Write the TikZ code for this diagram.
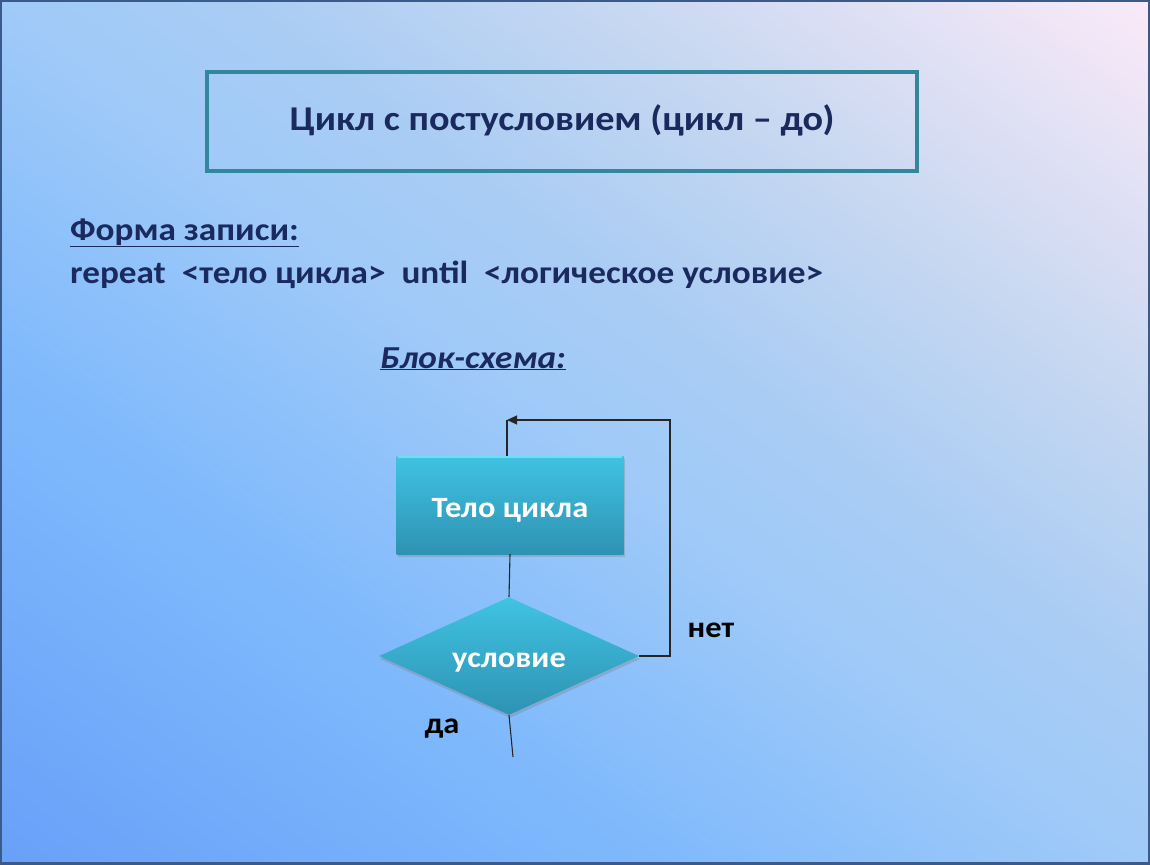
\documentclass[tikz,border=0pt]{standalone}
\usepackage{fontspec}
\setmainfont{Carlito}[FakeStretch=1.1]
\usetikzlibrary{shapes.geometric,arrows.meta,shadows}

\definecolor{inkblue}{HTML}{1B2A5E}
\definecolor{frameteal}{HTML}{33879D}
\definecolor{edgeblue}{HTML}{3A5A8C}
\definecolor{boxtop}{HTML}{40C3E2}
\definecolor{boxbot}{HTML}{2E92B3}
\definecolor{boxhi}{HTML}{6FDDF2}
\definecolor{bgA}{HTML}{67A0F8}
\definecolor{bgB}{HTML}{80BAFC}
\definecolor{bgC}{HTML}{A0CAF8}
\definecolor{bgD}{HTML}{A9CCF4}
\definecolor{bgE}{HTML}{C5D7F1}
\definecolor{bgF}{HTML}{FCEAF8}

\pgfdeclareverticalshading{slidebg}{100bp}{color(0bp)=(bgA); color(14.6bp)=(bgA); color(35.8bp)=(bgB); color(50bp)=(bgC); color(57.1bp)=(bgD); color(67.7bp)=(bgE); color(85.4bp)=(bgF); color(100bp)=(bgF)}

\begin{document}
\begin{tikzpicture}[x=1pt, y=-1pt,
    blockbox/.style={draw=none, top color=boxtop, bottom color=boxbot, text=white,
        font=\fontsize{29.5}{34}\selectfont\bfseries,
        drop shadow={opacity=0.35, shadow xshift=1pt, shadow yshift=-3pt}},
    flowline/.style={draw=black!85, line width=1.1pt},
    slidetext/.style={anchor=base west, inner sep=0pt, text=inkblue,
        font=\fontsize{32}{36}\selectfont\bfseries},
    answer/.style={font=\fontsize{29.5}{34}\selectfont\bfseries, text=black}]

    % background of the slide
    \useasboundingbox (0,0) rectangle (1150,864);
    \shade[shading=slidebg, shading angle=-37] (0,0) rectangle (1150,864);
    \draw[edgeblue, line width=4pt] (0,0) rectangle (1150,864);

    % title
    \draw[frameteal, line width=4pt] (207,72) rectangle (917,171);
    \node[anchor=base, inner sep=0pt, text=inkblue, font=\fontsize{34.8}{40}\selectfont\bfseries]
          (title) at (562,131) {Цикл с постусловием (цикл – до)};

    % form of the statement
    \node[slidetext] (formhead) at (70,240) {\underline{Форма записи:}};
    \node[slidetext] (formline) at (70,283) {repeat\ \ <тело цикла>\ \ until\ \ <логическое условие>};
    \node[slidetext, font=\fontsize{32}{36}\selectfont\bfseries\itshape]
          (schemehead) at (380,368) {\underline{Блок-схема:}};

    % flowchart
    \node[blockbox, minimum width=227pt, minimum height=98pt, text depth=0pt,
          text height=24pt] (body) at (510,505) {Тело цикла};
    \draw[boxhi, line width=2pt] ([xshift=2pt,yshift=-1pt]body.north west) -- ([xshift=-2pt,yshift=-1pt]body.north east);
    \node[blockbox, shape=diamond, inner sep=0pt, minimum width=260pt, minimum height=108pt,
          text depth=0pt, text height=4pt] (cond) at (509,656) {\raisebox{-9pt}{условие}};

    \coordinate (loopright) at (670,420);
    \coordinate (looptop) at (507,420);
    \coordinate (exitend) at (513,757);

    \draw[flowline] (body.south) -- (cond.north);
    \draw[flowline, -{Triangle[length=10pt, width=9pt]}] (cond.east) -| (loopright) -- (looptop);
    \draw[flowline] (looptop) -- (looptop |- body.north);
    \draw[flowline] (cond.south) -- (exitend);

    \node[answer] (no) at (711,630) {нет};
    \node[answer] (yes) at (442,729) {да};
\end{tikzpicture}
\end{document}
